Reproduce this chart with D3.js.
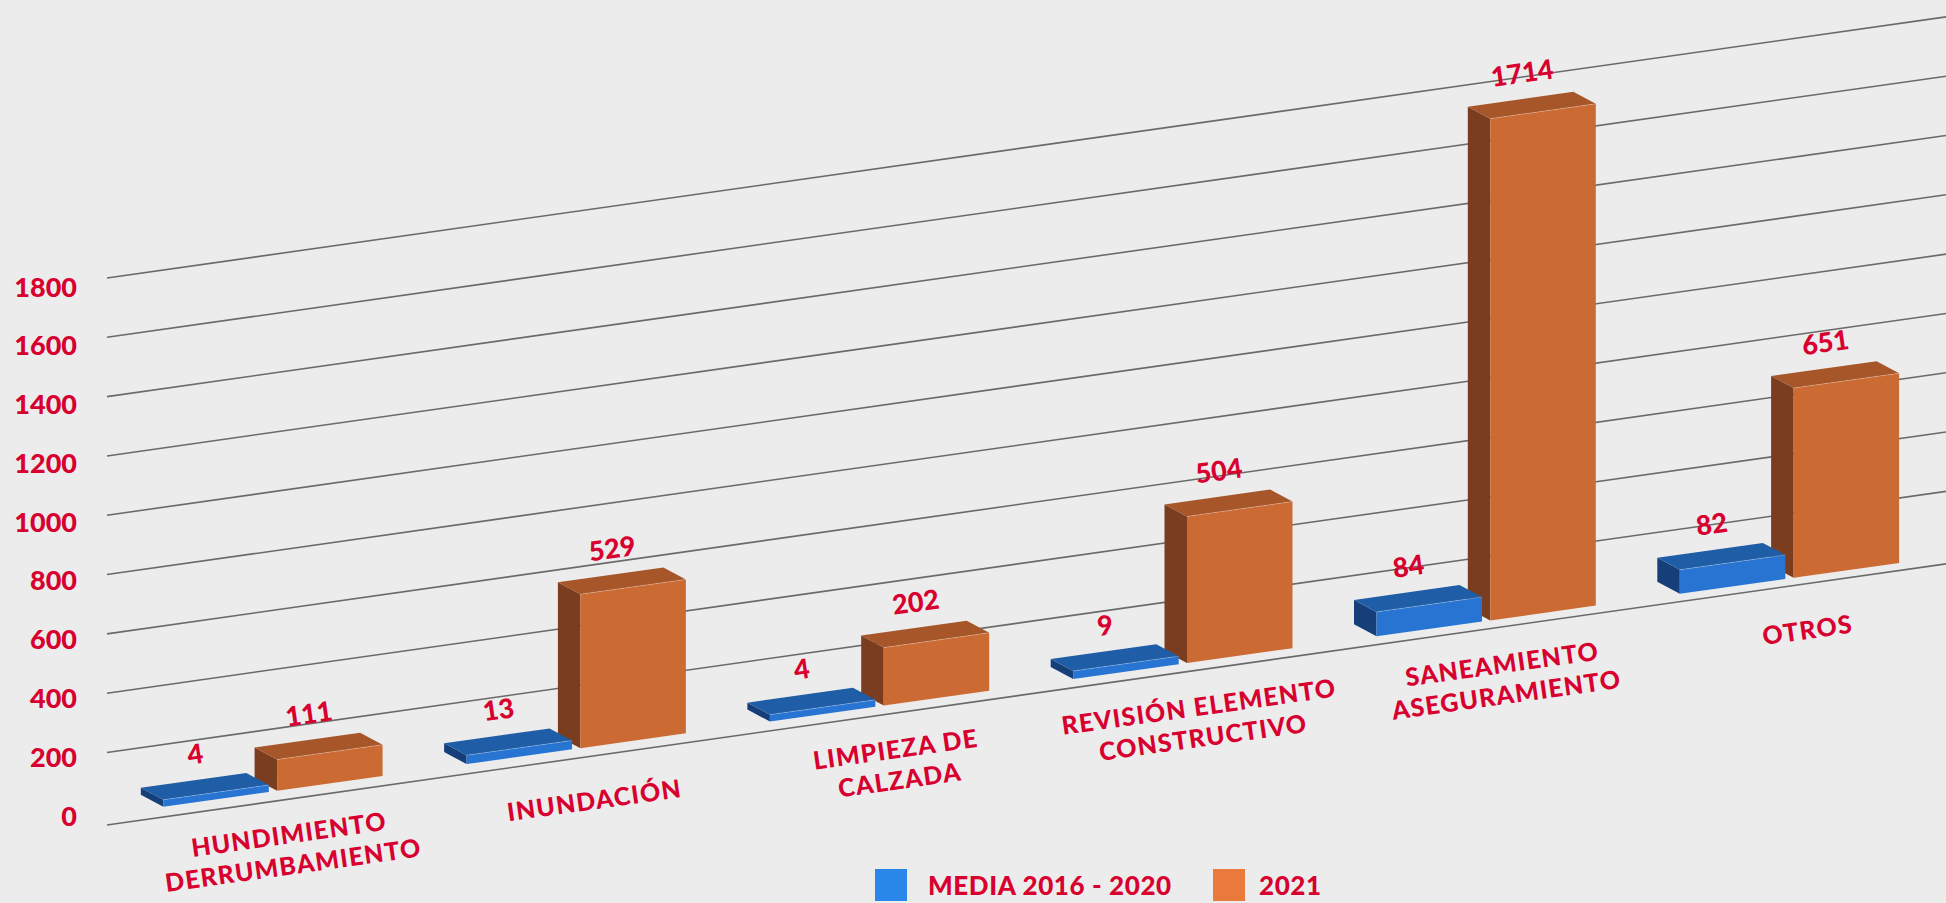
<!DOCTYPE html>
<html lang="es">
<head>
    <meta charset="UTF-8">
    <title>actuaciones 2021</title>
    <script src="https://d3js.org/d3.v7.min.js"></script>
    <style>
        body{
            margin: 0;
            background: #ececec;
        }
        svg{
            display: block;
        }
        .lbl{
            font-family: Lato, "Open Sans", sans-serif;
            font-weight: 900;
            fill: #d7002f;
        }
    </style>
</head>
<body>
<svg id="chart" width="1946" height="903"></svg>
<script>
    // data
    let categories = ["HUNDIMIENTO DERRUMBAMIENTO", "INUNDACIÓN", "LIMPIEZA DE CALZADA",
        "REVISIÓN ELEMENTO CONSTRUCTIVO", "SANEAMIENTO ASEGURAMIENTO", "OTROS"];
    let categoryLines = [["HUNDIMIENTO", "DERRUMBAMIENTO"], ["INUNDACIÓN"], ["LIMPIEZA DE", "CALZADA"],
        ["REVISIÓN ELEMENTO", "CONSTRUCTIVO"], ["SANEAMIENTO", "ASEGURAMIENTO"], ["OTROS"]];
    let series = ["MEDIA 2016 - 2020", "2021"];
    let media = [4, 13, 4, 9, 84, 82];
    let y2021 = [111, 529, 202, 504, 1714, 651];
    let yTicks = [0, 200, 400, 600, 800, 1000, 1200, 1400, 1600, 1800];

    let svg = d3.select("#chart");
    let W = 1946;

    // slanted floor
    let slope = 0.1404, gridSlope = 0.142;
    let angle = -Math.atan(slope) * 180 / Math.PI;
    let floorX0 = 163.3, floorY0 = 806.7;
    function floor(x) { return floorY0 - slope * (x - floorX0) }
    let depth = [-22.5, -12];

    let x0 = d3.scaleBand().domain(categories).range([163.3, 1899.1]).paddingInner(0.277).paddingOuter(0);
    let x1 = d3.scaleBand().domain(series).range([0, x0.bandwidth()]).paddingInner(0.073);
    let h = d3.scaleLinear().domain([0, 100, 1800]).range([6, 28, 527]);
    // gridlines at left start, labels
    let gridY = d3.scaleLinear().domain([0, 200, 1800]).range([825, 752.5, 278]);
    let labelY = d3.scaleLinear().domain([0, 1800]).range([815, 286]);
    let gridX = 107;

    let colors = {
        "MEDIA 2016 - 2020": {front: "#2774d2", top: "#1f5da6", side: "#163f7a", legend: "#2a87ea"},
        "2021": {front: "#cc6a34", top: "#a65628", side: "#7a3d1f", legend: "#e97a3c"}
    };

    // gridlines
    svg.append("g").selectAll("line")
        .data(yTicks)
        .enter()
        .append("line")
        .attr("x1", gridX)
        .attr("y1", d => gridY(d))
        .attr("x2", W)
        .attr("y2", d => gridY(d) - gridSlope * (W - gridX))
        .attr("stroke", "#6a6a6a")
        .attr("stroke-width", 1.6);

    svg.append("g").selectAll("text")
        .data(yTicks)
        .enter()
        .append("text")
        .attr("class", "lbl")
        .attr("x", 77)
        .attr("y", d => labelY(d))
        .attr("text-anchor", "end")
        .attr("dominant-baseline", "central")
        .style("font-size", "27px")
        .text(d => d);

    // bars, 2021 first so the blue one covers its side face
    let bars = [];
    categories.forEach(function (c, i) {
        bars.push({cat: c, s: "2021", v: y2021[i]});
        bars.push({cat: c, s: "MEDIA 2016 - 2020", v: media[i]});
    });

    function pts(p) { return p.map(q => q.join(",")).join(" ") }

    let g = svg.append("g");
    bars.forEach(function (b) {
        let xl = x0(b.cat) + x1(b.s);
        let xr = xl + x1.bandwidth();
        let hh = h(b.v);
        let bl = [xl, floor(xl)], br = [xr, floor(xr)];
        let tl = [xl, floor(xl) - hh], tr = [xr, floor(xr) - hh];
        let add = p => [p[0] + depth[0], p[1] + depth[1]];
        let col = colors[b.s];
        g.append("polygon").attr("points", pts([bl, tl, add(tl), add(bl)])).attr("fill", col.side);
        g.append("polygon").attr("points", pts([tl, tr, add(tr), add(tl)])).attr("fill", col.top);
        g.append("polygon").attr("points", pts([bl, br, tr, tl])).attr("fill", col.front);
        g.append("line")
            .attr("x1", tl[0]).attr("y1", tl[1]).attr("x2", tr[0]).attr("y2", tr[1])
            .attr("stroke", "rgba(255,255,255,0.3)").attr("stroke-width", 0.8);

        // value label
        let lx = (xl + xr) / 2 - 21;
        let ly = floor(lx) - hh - 42;
        svg.append("text")
            .attr("class", "lbl")
            .attr("transform", "translate(" + lx + "," + ly + ") rotate(" + angle + ")")
            .attr("text-anchor", "middle")
            .attr("dominant-baseline", "central")
            .style("font-size", "27px")
            .text(b.v);
    });

    // category labels
    categories.forEach(function (c, i) {
        let lines = categoryLines[i];
        let cx = x0(c) + x0.bandwidth() / 2 + 18;
        let cy = floor(cx) + (lines.length > 1 ? 60 : 53);
        let t = svg.append("text")
            .attr("class", "lbl")
            .attr("transform", "translate(" + cx + "," + cy + ") rotate(" + angle + ")")
            .attr("text-anchor", "middle")
            .style("font-size", "25px")
            .style("letter-spacing", "1.2px");
        lines.forEach(function (l, j) {
            t.append("tspan")
                .attr("x", 0)
                .attr("y", (j - (lines.length - 1) / 2) * 31)
                .attr("dominant-baseline", "central")
                .text(l);
        });
    });

    // legend
    let legendX = [875, 1213];
    let legendText = [53, 46];
    let lg = svg.append("g").selectAll("g")
        .data(series)
        .enter()
        .append("g")
        .attr("transform", (d, i) => "translate(" + legendX[i] + ",869)");
    lg.append("rect")
        .attr("width", 32)
        .attr("height", 32)
        .attr("fill", d => colors[d].legend);
    lg.append("text")
        .attr("class", "lbl")
        .attr("x", (d, i) => legendText[i])
        .attr("y", 16)
        .attr("dominant-baseline", "central")
        .style("font-size", "26px")
        .style("letter-spacing", "0.6px")
        .text(d => d);
</script>
</body>
</html>
